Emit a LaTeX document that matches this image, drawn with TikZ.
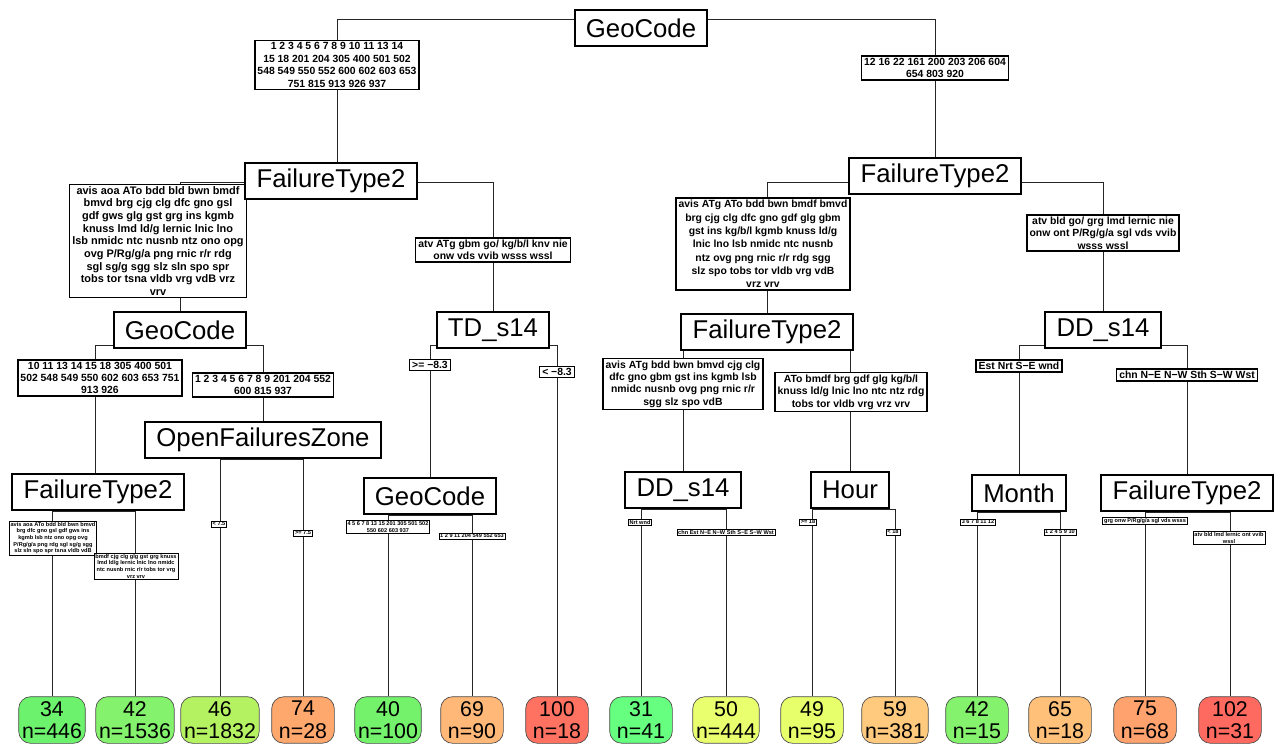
\documentclass[tikz,border=0pt]{standalone}
\usepackage{fontspec}
\setmainfont{Liberation Sans}
\usetikzlibrary{backgrounds}
\definecolor{g31}{HTML}{66FF80}
\definecolor{g34}{HTML}{6CF26C}
\definecolor{g40}{HTML}{74F26C}
\definecolor{g42}{HTML}{84F26C}
\definecolor{g46}{HTML}{B4F262}
\definecolor{y49}{HTML}{E6FF6A}
\definecolor{y50}{HTML}{EAFF6E}
\definecolor{o59}{HTML}{FFCA7E}
\definecolor{o65}{HTML}{FFC07A}
\definecolor{o69}{HTML}{FFB878}
\definecolor{o74}{HTML}{FFA86E}
\definecolor{o75}{HTML}{FFA26E}
\definecolor{r100}{HTML}{FF7262}
\definecolor{r102}{HTML}{FF6A60}
\begin{document}
\begin{tikzpicture}[x=0.75pt,y=-0.75pt,
  split/.style={draw=black,line width=1.5pt,fill=white,inner xsep=8.5pt,inner ysep=0pt,
    minimum height=27pt,font=\fontsize{19.3}{22}\selectfont},
  cut/.style={draw=black,line width=1.1pt,fill=white,inner xsep=2pt,inner ysep=1.5pt,
    align=center,font=\fontsize{7.8}{9.3}\selectfont\bfseries},
  tinycut/.style={draw=black,line width=0.5pt,fill=white,inner xsep=1pt,inner ysep=0.8pt,
    align=center,font=\fontsize{4.2}{5}\selectfont\bfseries},
  leaf/.style={draw=black!70,line width=0.5pt,rounded corners=9pt,minimum width=47pt,
    minimum height=34pt,inner xsep=2.5pt,align=center,font=\fontsize{16}{17}\selectfont},
  edge/.style={draw=black!85,line width=0.75pt}
]
\useasboundingbox (0,0) rectangle (1277,745);

% split labels on the branches (the split boxes are drawn over them)
\node[cut] (cRootL) at (337,65) {1 2 3 4 5 6 7 8 9 10 11 13 14\\15 18 201 204 305 400 501 502\\548 549 550 552 600 602 603 653\\751 815 913 926 937};
\node[cut] (cRootR) at (935,68) {12 16 22 161 200 203 206 604\\654 803 920};
\node[cut,font=\fontsize{8.2}{9.5}\selectfont\bfseries] (cL1) at (158,241) {avis aoa ATo bdd bld bwn bmdf\\bmvd brg cjg clg dfc gno gsl\\gdf gws glg gst grg ins kgmb\\knuss lmd ld/g lernic lnic lno\\lsb nmidc ntc nusnb ntz ono opg\\ovg P/Rg/g/a png rnic r/r rdg\\sgl sg/g sgg slz sln spo spr\\tobs tor tsna vldb vrg vdB vrz\\vrv};
\node[cut] (cL2) at (493,250) {atv ATg gbm go/ kg/b/l knv nie\\onw vds vvib wsss wssl};
\node[cut,font=\fontsize{7.8}{10}\selectfont\bfseries] (cR1) at (763,244) {avis ATg ATo bdd bwn bmdf bmvd\\brg cjg clg dfc gno gdf glg gbm\\gst ins kg/b/l kgmb knuss ld/g\\lnic lno lsb nmidc ntc nusnb\\ntz ovg png rnic r/r rdg sgg\\slz spo tobs tor vldb vrg vdB\\vrz vrv};
\node[cut] (cR2) at (1103,233) {atv bld go/ grg lmd lernic nie\\onw ont P/Rg/g/a sgl vds vvib\\wsss wssl};
\node[cut] (cG1) at (100,378) {10 11 13 14 15 18 305 400 501\\502 548 549 550 602 603 653 751\\913 926};
\node[cut] (cG2) at (263,385) {1 2 3 4 5 6 7 8 9 201 204 552\\600 815 937};
\node[cut] (cT1) at (430,365) {>= −8.3};
\node[cut] (cT2) at (557,372) {< −8.3};
\node[cut] (cM1) at (683,384) {avis ATg bdd bwn bmvd cjg clg\\dfc gno gbm gst ins kgmb lsb\\nmidc nusnb ovg png rnic r/r\\sgg slz spo vdB};
\node[cut] (cM2) at (851,392) {ATo bmdf brg gdf glg kg/b/l\\knuss ld/g lnic lno ntc ntz rdg\\tobs tor vldb vrg vrz vrv};
\node[cut] (cD1) at (1019,366) {Est Nrt S−E wnd};
\node[cut] (cD2) at (1187,375) {chn N−E N−W Sth S−W Wst};

\node[tinycut] (t1)  at (53,538)   {avis aoa ATo bdd bld bwn bmvd\\brg dfc gno gsl gdf gws ins\\kgmb lsb ntz ono opg ovg\\P/Rg/g/a png rdg sgl sg/g sgg\\slz sln spo spr tsna vldb vdB};
\node[tinycut] (t2)  at (136,566)  {bmdf cjg clg glg gst grg knuss\\lmd ld/g lernic lnic lno nmidc\\ntc nusnb rnic r/r tobs tor vrg\\vrz vrv};
\node[tinycut] (t3)  at (219,524)  {< 7.5};
\node[tinycut] (t4)  at (303,533)  {>= 7.5};
\node[tinycut] (t5)  at (388,527)  {4 5 6 7 8 13 15 201 305 501 502\\550 602 603 937};
\node[tinycut] (t6)  at (472,536)  {1 2 9 11 204 549 552 653};
\node[tinycut] (t7)  at (640,522)  {Nrt wnd};
\node[tinycut] (t8)  at (726,532)  {chn Est N−E N−W Sth S−E S−W Wst};
\node[tinycut] (t9)  at (808,522)  {>= 18};
\node[tinycut] (t10) at (893,532)  {< 18};
\node[tinycut] (t11) at (978,522)  {3 6 7 8 11 12};
\node[tinycut] (t12) at (1060,532) {1 2 4 5 9 10};
\node[tinycut] (t13) at (1145,521) {grg onw P/Rg/g/a sgl vds wsss};
\node[tinycut] (t14) at (1229,538) {atv bld lmd lernic ont vvib\\wssl};

% split nodes
\node[split] (root)  at (641,28)  {GeoCode};
\node[split] (ft2L)  at (331,181) {FailureType2};
\node[split] (ft2R)  at (935,176) {FailureType2};
\node[split] (geoL)  at (180,330) {GeoCode};
\node[split] (tdL)   at (493,330) {TD\_s14};
\node[split] (ft2M)  at (767,332) {FailureType2};
\node[split] (ddR)   at (1103,330) {DD\_s14};
\node[split] (ft2LL) at (98,492)  {FailureType2};
\node[split] (ofz)   at (263,440) {OpenFailuresZone};
\node[split] (geoLL) at (430,496) {GeoCode};
\node[split] (ddM)   at (683,490) {DD\_s14};
\node[split] (hour)  at (850,490) {Hour};
\node[split] (month) at (1019,493) {Month};
\node[split] (ft2RR) at (1187,493) {FailureType2};

% leaves
\node[leaf,fill=g34]  (n1)  at (52,720)   {34\\n=446};
\node[leaf,fill=g42]  (n2)  at (135,720)  {42\\n=1536};
\node[leaf,fill=g46]  (n3)  at (220,720)  {46\\n=1832};
\node[leaf,fill=o74]  (n4)  at (303,720)  {74\\n=28};
\node[leaf,fill=g40]  (n5)  at (388,720)  {40\\n=100};
\node[leaf,fill=o69]  (n6)  at (472,720)  {69\\n=90};
\node[leaf,fill=r100] (n7)  at (557,720)  {100\\n=18};
\node[leaf,fill=g31]  (n8)  at (641,720)  {31\\n=41};
\node[leaf,fill=y50]  (n9)  at (726,720)  {50\\n=444};
\node[leaf,fill=y49]  (n10) at (812,720)  {49\\n=95};
\node[leaf,fill=o59]  (n11) at (895,720)  {59\\n=381};
\node[leaf,fill=g42]  (n12) at (977,720)  {42\\n=15};
\node[leaf,fill=o65]  (n13) at (1060,720) {65\\n=18};
\node[leaf,fill=o75]  (n14) at (1145,720) {75\\n=68};
\node[leaf,fill=r102] (n15) at (1230,720) {102\\n=31};

% branch junctions
\coordinate (jRoot)  at (641,20);
\coordinate (jFt2L)  at (337,183);
\coordinate (jFt2R)  at (935,183);
\coordinate (jGeoL)  at (180,345);
\coordinate (jTdL)   at (493,345);
\coordinate (jFt2M)  at (767,349);
\coordinate (jDdR)   at (1103,345);

% branches, drawn behind the boxes
\begin{scope}[on background layer]
\draw[edge] (jRoot) -| (337,181) -- (ft2L);
\draw[edge] (jRoot) -| (ft2R);
\draw[edge] (jFt2L) -| (geoL);
\draw[edge] (jFt2L) -| (tdL);
\draw[edge] (jFt2R) -| (ft2M);
\draw[edge] (jFt2R) -| (ddR);
\draw[edge] (jGeoL) -| (95,492) -- (ft2LL);
\draw[edge] (jGeoL) -| (ofz);
\draw[edge] (jTdL) -| (geoLL);
\draw[edge] (jTdL) -| (n7);
\draw[edge] (jFt2M) -| (ddM);
\draw[edge] (jFt2M) -| (hour);
\draw[edge] (jDdR) -| (month);
\draw[edge] (jDdR) -| (ft2RR);
\draw[edge] (ft2LL.south) -| (n1);
\draw[edge] (ft2LL.south) -| (n2);
\draw[edge] (ofz.south) -| (n3);
\draw[edge] (ofz.south) -| (n4);
\draw[edge] (geoLL.south) -| (n5);
\draw[edge] (geoLL.south) -| (n6);
\draw[edge] (ddM.south) -| (n8);
\draw[edge] (ddM.south) -| (n9);
\draw[edge] (hour.south) -| (n10);
\draw[edge] (hour.south) -| (n11);
\draw[edge] (month.south) -| (n12);
\draw[edge] (month.south) -| (n13);
\draw[edge] (ft2RR.south) -| (n14);
\draw[edge] (ft2RR.south) -| (n15);
\end{scope}
\end{tikzpicture}
\end{document}
